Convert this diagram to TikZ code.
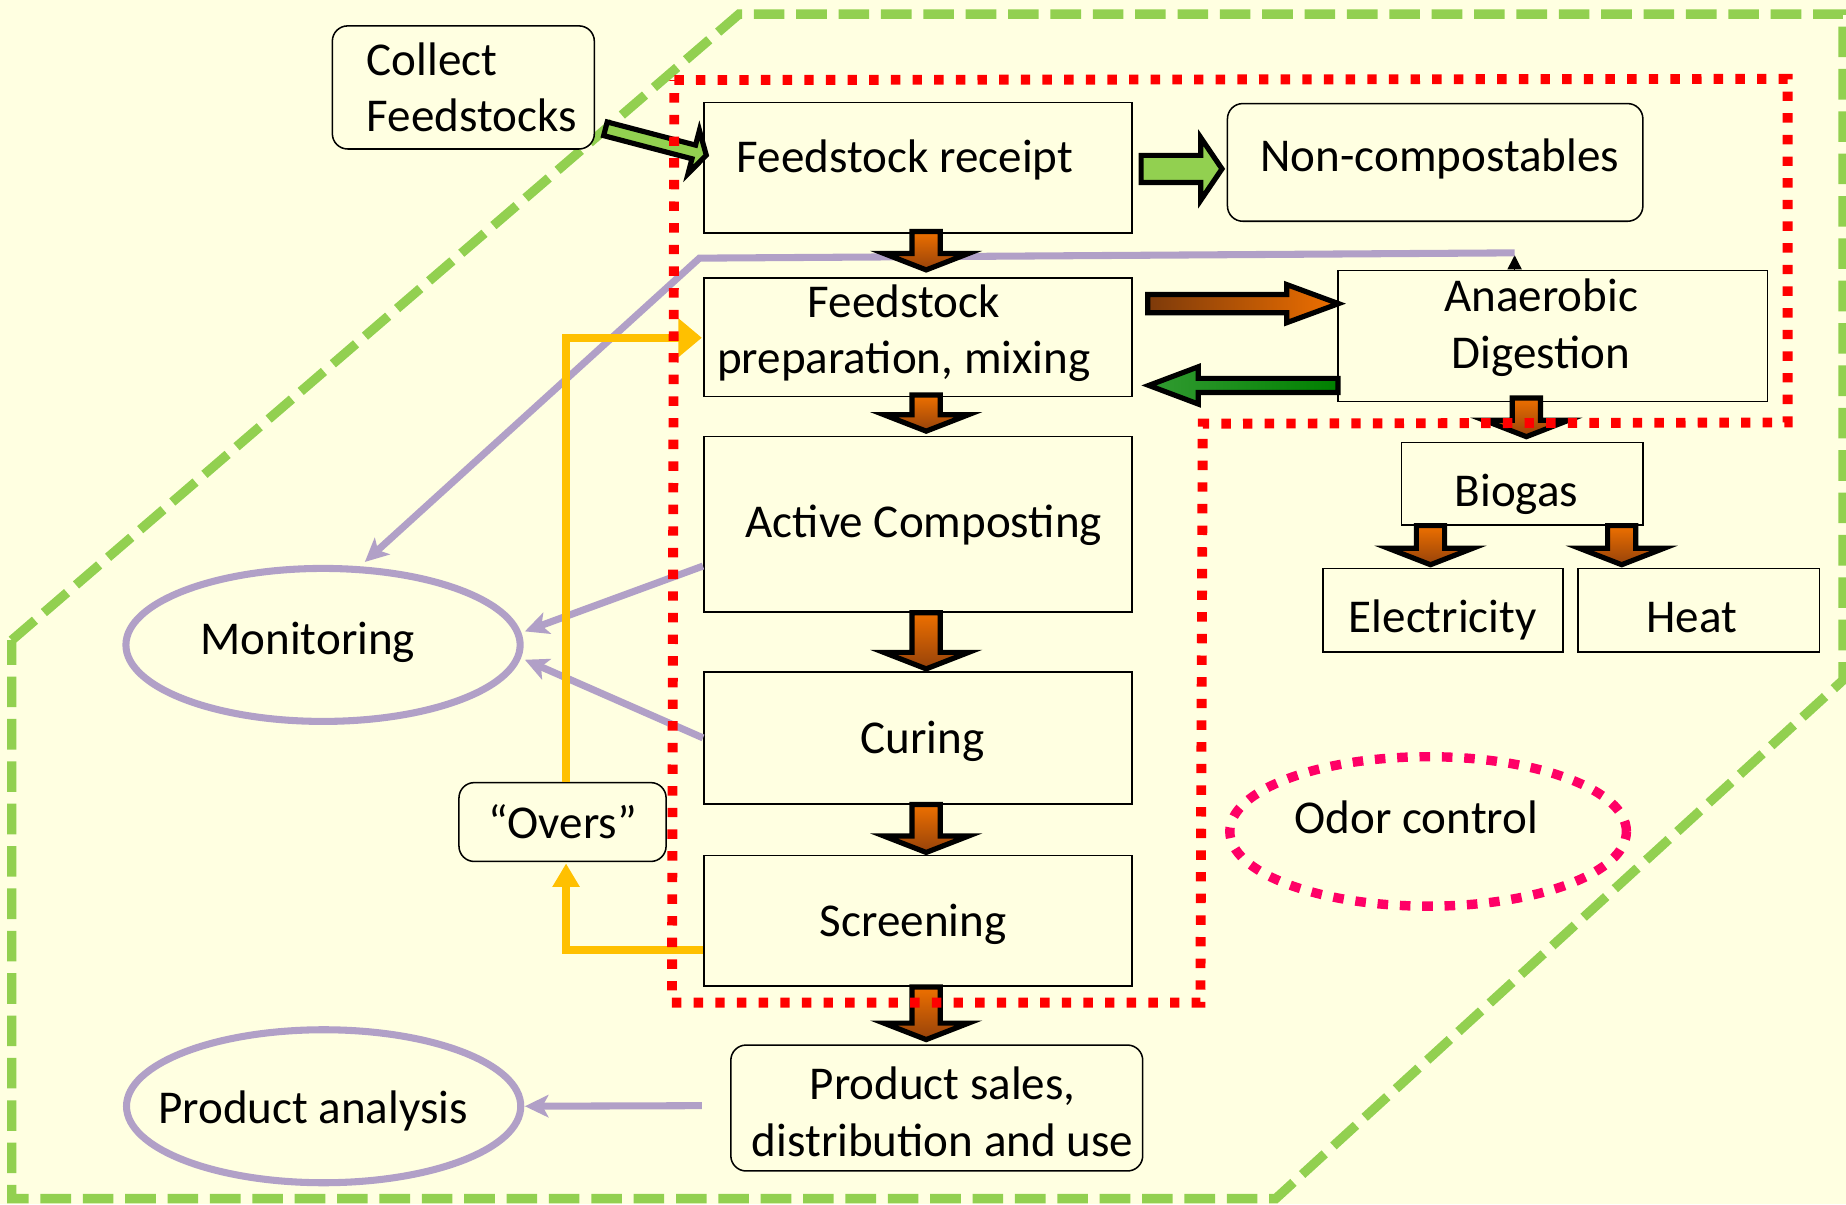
\documentclass[tikz,border=0pt]{standalone}
\usepackage{fontspec}
\setmainfont{Carlito}
\usetikzlibrary{calc,arrows.meta,shapes.geometric}

\definecolor{bgc}{HTML}{FFFFE1}
\definecolor{lav}{HTML}{B1A0C7}
\definecolor{gold}{HTML}{FFC000}
\definecolor{lgreen}{HTML}{92D050}
\definecolor{odorpink}{HTML}{FF0066}
\definecolor{ortail}{RGB}{238,112,0}
\definecolor{ortip}{RGB}{150,66,10}
\definecolor{brtail}{RGB}{125,58,10}
\definecolor{orhead}{RGB}{240,112,0}
\definecolor{gntail}{RGB}{0,128,0}
\definecolor{gnhead}{RGB}{50,155,50}

% move a label inside its box without changing the box
\newcommand\nudge[3]{\raisebox{#2}[\height][\depth]{\hspace*{#1}#3\hspace*{-#1}}}
\newcommand\twolines[3][c]{\begin{tabular}{@{}#1@{}}#2\\#3\end{tabular}}

\tikzset{
  box/.style={draw, line width=0.65pt, fill=bgc, inner sep=0pt, align=center, font=\fontsize{20}{24}\selectfont},
  rbox/.style={box, rounded corners=6.5pt},
  oval/.style={ellipse, draw=lav, line width=3pt, inner sep=0pt, inner xsep=-12pt, minimum width=167.5pt, minimum height=65pt, font=\fontsize{20}{24}\selectfont},
  lavline/.style={draw=lav, line width=3pt, -{Stealth[length=10pt,width=9.5pt,inset=2.5pt]}},
  goldline/.style={draw=gold, line width=3.4pt},
  fat/.style n args={3}{draw=black, line width=2.2pt, line join=miter,
    to path={(\tikztostart) coordinate (bas) (\tikztotarget) coordinate (bat)
      ($(bat)!#3!(bas)$) coordinate (bah)
      ($(bas)!#1!90:(bat)$) -- ($(bah)!#1!-90:(bas)$) -- ($(bah)!#2!-90:(bas)$)
      -- (bat) -- ($(bah)!#2!90:(bas)$) -- ($(bah)!#1!90:(bas)$)
      -- ($(bas)!#1!-90:(bat)$) -- cycle}},
  downfat/.style={fat={6pt}{18pt}{7pt}, top color=ortail, bottom color=ortip},
}

\begin{document}
\begin{tikzpicture}[x=0.5pt,y=0.5pt,yscale=-1,xscale=1]
\fill[bgc] (0,0) rectangle (1568.6,1023.2);
\useasboundingbox (0,0) rectangle (1568.6,1023.2);
% outer boundary
\draw[lgreen, line width=4pt, dash pattern=on 13pt off 5pt] (10,544) -- (628,12) -- (1566,12) -- (1566,578) -- (1084,1018.5) -- (10,1018.5) -- cycle;

% Text Node
\draw (393.7,74.3) node [rbox, minimum width=111.3pt, minimum height=52.3pt] (cf) {\nudge{3.5pt}{-2pt}{\twolines[l]{Collect}{Feedstocks}}};
% Text Node
\draw (780,142.5) node [box, minimum width=182pt, minimum height=55.5pt] (fr) {\nudge{-5.5pt}{3.5pt}{Feedstock receipt}};
% Text Node
\draw (1219.5,138) node [rbox, minimum width=176.5pt, minimum height=50pt] (nc) {\nudge{2pt}{1.5pt}{Non-compostables}};
% Text Node
\draw (780,286.5) node [box, minimum width=182pt, minimum height=50.5pt] (fp) {\nudge{-6pt}{1.25pt}{\twolines{Feedstock}{preparation, mixing}}};
% Text Node
\draw (1319.5,285.5) node [box, minimum width=182.5pt, minimum height=55.5pt] (ad) {\nudge{-5pt}{3pt}{\twolines{Anaerobic}{Digestion}}};
% Text Node
\draw (780,445.5) node [box, minimum width=182pt, minimum height=74.5pt] (ac) {\nudge{2.5pt}{-0.5pt}{Active Composting}};
% Text Node
\draw (780,627) node [box, minimum width=182pt, minimum height=56pt] (cu) {\nudge{2pt}{-1.5pt}{Curing}};
% Text Node
\draw (780,782.5) node [box, minimum width=182pt, minimum height=55.5pt] (sc) {\nudge{-2pt}{-1.5pt}{Screening}};
% Text Node
\draw (796,941.5) node [rbox, minimum width=175pt, minimum height=53.5pt] (ps) {\nudge{2.5pt}{-3.75pt}{\twolines{Product sales,}{distribution and use}}};
% Text Node
\draw (1293.5,411) node [box, minimum width=102.5pt, minimum height=35pt] (bg) {\nudge{-2.5pt}{-4.5pt}{Biogas}};
% Text Node
\draw (1226,518.5) node [box, minimum width=102pt, minimum height=35.5pt] (el) {\nudge{0pt}{-4pt}{Electricity}};
% Text Node
\draw (1443.5,518.5) node [box, minimum width=102.5pt, minimum height=35.5pt] (ht) {\nudge{-3pt}{-3pt}{Heat}};
% Text Node
\draw (478,698.5) node [rbox, minimum width=88pt, minimum height=33.5pt] (ov) {“Overs”};
% Text Node
\draw (274.5,548) node [oval] (mon) {\nudge{-6.5pt}{1pt}{Monitoring}};
% Text Node
\draw (275,940) node [oval] (pa) {\nudge{-4.5pt}{-2pt}{Product analysis}};
% Text Node
\draw (1213.5,706.5) node [oval, draw=odorpink, line width=4pt, dash pattern=on 4.5pt off 5pt, minimum width=168.5pt, minimum height=63.5pt] (odc) {\nudge{-5pt}{6pt}{Odor control}};

% monitoring lines
\draw[black, line width=0.5pt, -{Triangle[length=6pt,width=6pt]}] ($(ad.north)+(-32.5,0)$) -- ($(ad.north)+(-32.5,-12.5)$);
\draw[lavline] ($(ad.north)+(-32.5,-14.5)$) -- ($(fp.north west)+(-3,-16)$) -- ($(mon.north)+(35.5,-2.5)$);
\draw[lavline] ($(ac.west)+(0,35.5)$) -- ($(mon.east)+(1,-11.5)$);
\draw[lavline] (cu.west) -- ($(mon.east)+(1,12.6)$);
\draw[lavline] ($(ps.west)+(-24,-2)$) -- ($(pa.east)+(0.5,0)$);

% overs loop
\draw[goldline, -{Triangle[length=10pt,width=16pt]}] ($(ov.north)+(3,0)$) |- ($(fp.west)+(-1,0.5)$);
\draw[goldline, -{Triangle[length=10pt,width=11pt]}] ($(sc.west)+(0,25)$) -| ($(ov.south)+(3,1)$);

% block arrows
\draw[fat={3pt}{9.5pt}{5.5pt}, fill=lgreen] ($(cf.south east)+(8.8,-17.8)$) to ($(fr.west)+(2.8,-10.6)$);
\draw[fat={5.75pt}{13.25pt}{9pt}, fill=lgreen] ($(fr.east)+(7,1)$) to ($(nc.west)+(-4,5.5)$);
\draw[fat={3.9pt}{8.1pt}{22pt}, left color=brtail, right color=orhead] ($(fp.east)+(12.6,-28.5)$) to ($(ad.west)+(1,-27.5)$);
\draw[fat={3pt}{7.9pt}{21pt}, left color=gnhead, right color=gntail] ($(ad.west)+(0.6,42)$) to ($(fp.east)+(13.5,41)$);
\draw[downfat] ($(fr.south)+(7,-2)$) to ($(fp.north)+(7,-6)$);
\draw[downfat] ($(fp.south)+(7,-2)$) to ($(ac.north)+(7,-4)$);
\draw[downfat] ($(ac.south)+(7,0)$) to ($(cu.north)+(7,-2)$);
\draw[downfat] ($(cu.south)+(7,0)$) to ($(sc.north)+(7,-2)$);
\draw[downfat] ($(sc.south)+(7,0)$) to ($(ps.north)+(-9,-4)$);
\draw[downfat] ($(ad.south)+(-22.5,-3.5)$) to ($(bg.north)+(3.5,-4.3)$);
\draw[downfat] ($(bg.south)+(-78,0)$) to ($(el.north)+(-10.5,-2.5)$);
\draw[downfat] ($(bg.south)+(84.5,0)$) to ($(ht.north)+(-65.5,-2.5)$);

% odor containment
\draw[red, line width=4.2pt, dash pattern=on 4pt off 5.2pt] (573,68) -- (1519,67) -- (1519,359) -- (1022,360) -- (1020,852) -- (571,852) -- cycle;
\end{tikzpicture}
\end{document}
